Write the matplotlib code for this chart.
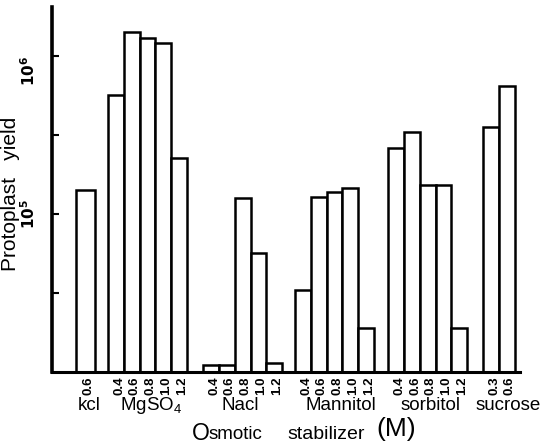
import numpy as np
import matplotlib.pyplot as plt

plt.rcParams['font.family'] = ['Liberation Sans', 'DejaVu Sans']

# data (protoplast yield, log scale)
group_names = ['kcl', r'Mg$\mathregular{SO_4}$', 'Nacl', 'Mannitol', 'sorbitol', 'sucrose']

kcl_conc = ['0.6']
kcl_yield = [1.42e5]

mgso4_conc = ['0.4', '0.6', '0.8', '1.0', '1.2']
mgso4_yield = [5.7e5, 1.42e6, 1.30e6, 1.21e6, 2.26e5]

nacl_conc = ['0.4', '0.6', '0.8', '1.0', '1.2']
nacl_yield = [1.1e4, 1.1e4, 1.26e5, 5.7e4, 1.14e4]

mannitol_conc = ['0.4', '0.6', '0.8', '1.0', '1.2']
mannitol_yield = [3.3e4, 1.28e5, 1.38e5, 1.46e5, 1.9e4]

sorbitol_conc = ['0.4', '0.6', '0.8', '1.0', '1.2']
sorbitol_yield = [2.62e5, 3.3e5, 1.53e5, 1.53e5, 1.9e4]

sucrose_conc = ['0.3', '0.6']
sucrose_yield = [3.55e5, 6.46e5]

all_conc = [kcl_conc, mgso4_conc, nacl_conc, mannitol_conc, sorbitol_conc, sucrose_conc]
all_yield = [kcl_yield, mgso4_yield, nacl_yield, mannitol_yield, sorbitol_yield, sucrose_yield]

# layout (in bar-width units)
group_start = [1.52, 3.54, 9.56, 15.38, 21.27, 27.28]
bar_w = [1.22, 1, 1, 1, 1, 1]
name_shift = [0, 0, -0.35, 0.2, 0, 0.4]
y0 = 1e4

fig = plt.figure(figsize=(5.42, 4.46), dpi=100)
ax = fig.add_axes([0.096, 0.166, 0.863, 0.818])
ax.set_yscale('log')

tick_pos, tick_lab = [], []
for start, w, conc, vals, name, sh in zip(group_start, bar_w, all_conc, all_yield,
                                          group_names, name_shift):
    x = start + w * np.arange(len(vals))
    ax.bar(x, np.array(vals) - y0, bottom=y0, width=w, align='edge',
           color='white', edgecolor='black', linewidth=1.8)
    tick_pos += list(x + w / 2 + 0.2)
    tick_lab += conc
    ax.text(start + w * len(vals) / 2 + 0.2 + sh, -0.092, name,
            transform=ax.get_xaxis_transform(), ha='center', va='center', fontsize=13.5)

ax.set_xlim(0, 29.6)
ax.set_ylim(y0, 10 ** 6.31)

ax.set_xticks(tick_pos)
ax.set_xticklabels(tick_lab, rotation=90, fontsize=9.5, fontweight='bold')
ax.tick_params(axis='x', length=0, pad=3)

ax.set_yticks([1e5, 1e6])
ylabs = ax.set_yticklabels([r'$\mathbf{10^5}$', r'$\mathbf{10^6}$'], rotation=90,
                           va='center', fontsize=11)
ylabs[1].set_va('top')
ax.set_yticks([10 ** 4.5, 10 ** 5.5], minor=True)
ax.set_yticklabels([], minor=True)
ax.tick_params(axis='y', which='both', direction='in', length=5, width=1.5, pad=10)

for s in ['top', 'right']:
    ax.spines[s].set_visible(False)
ax.spines['left'].set_linewidth(2.6)
ax.spines['bottom'].set_linewidth(2.2)

fig.text(0.02, 0.565, 'Protoplast   yield', rotation=90, ha='center', va='center', fontsize=15)

# x axis title, drawn in pieces like the original lettering
fig.text(192 / 542, 0.014, 'O', fontsize=16.5, ha='left', va='baseline')
fig.text(209 / 542, 0.016, 'smotic', fontsize=13.5, ha='left', va='baseline')
fig.text(287 / 542, 0.016, 'stabilizer', fontsize=14, ha='left', va='baseline')
fig.text(376 / 542, 0.022, '(M)', fontsize=19, ha='left', va='baseline')

fig.savefig('out.png', dpi=100)
